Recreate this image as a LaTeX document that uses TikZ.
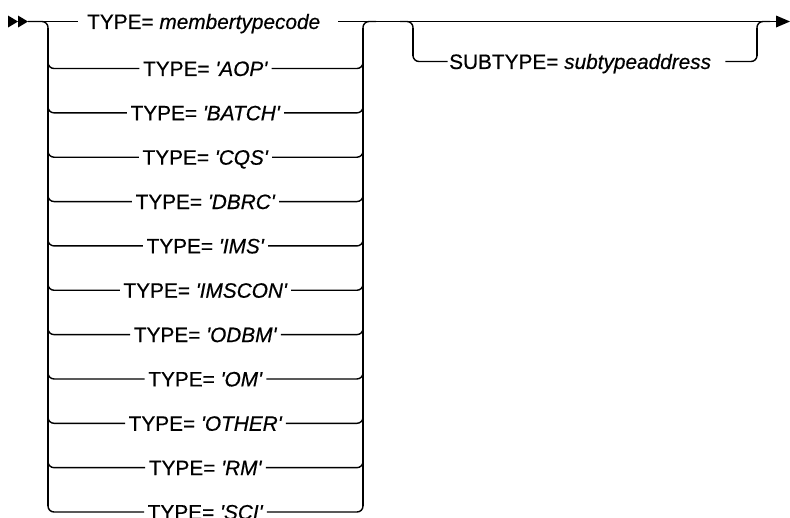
\documentclass[tikz,border=0pt]{standalone}
\usepackage{fontspec}
\setmainfont{Liberation Sans}[FakeBold=0.5]
\newcommand\sqt{\textquotesingle}
\begin{document}
\begin{tikzpicture}[x=1pt,y=-1pt,
  hl/.style={line width=1.4pt, rounded corners=6pt},
  vl/.style={line width=1.9pt},
  lbl/.style={font=\fontsize{20.8}{25}\selectfont, text height=14.9pt, text depth=0pt, inner ysep=0pt, inner xsep=3.5pt},
  tip/.style={fill=black}]
\useasboundingbox (0,0) rectangle (790,517);
% start double arrowhead
\coordinate (s1) at (8,21.5);
\coordinate (s2) at (18,21.5);
\coordinate (s3) at (28,21.5);
\fill[tip] (8,15.5) -- (s2) -- (8,27.5) -- cycle;
\fill[tip] (18,15.5) -- (s3) -- (18,27.5) -- cycle;
% end arrowhead
\coordinate (e0) at (776,21.5);
\coordinate (e1) at (790,21.5);
\fill[tip] (776,15.5) -- (e1) -- (776,27.5) -- cycle;
% first row
\node[lbl, inner xsep=0pt, anchor=west] (t0) at (87,21.5) {TYPE= \textit{membertypecode}};
\draw[hl] (s3) -- ([xshift=-9pt]t0.west);
\draw[hl] ([xshift=18pt]t0.east) -- (e0);
\draw[hl] (s3) -- (48,21.5) -- (48,34);
\draw[hl] (363,34) -- (363,21.5) -- (376,21.5);
% verticals
\draw[vl] (48,27.5) -- (48,506);
\draw[vl] (363,27.5) -- (363,506);
% alternatives
\foreach \t [count=\i] in {AOP,BATCH,CQS,DBRC,IMS,IMSCON,ODBM,OM,OTHER,RM,SCI} {
  \pgfmathsetmacro\yy{68.5+44.35*(\i-1)}
  \node[lbl] (t\i) at (205.5,\yy) {TYPE= \textit{\sqt\t\sqt}};
  \draw[hl] (48,\yy-14) -- (48,\yy) -- (t\i.west);
  \draw[hl] (t\i.east) -- (363,\yy) -- (363,\yy-14);
}
% optional SUBTYPE
\node[lbl, inner xsep=0pt, anchor=west] (st) at (449,61.5) {SUBTYPE= \textit{subtypeaddress}};
\draw[hl] (400,21.5) -- (413,21.5) -- (413,61.5) -- ([xshift=-1.5pt]st.west);
\draw[hl] ([xshift=14pt]st.east) -- (757,61.5) -- (757,21.5) -- (770,21.5);
\draw[vl] (413,27.5) -- (413,55.5);
\draw[vl] (757,27.5) -- (757,55.5);
\end{tikzpicture}
\end{document}
